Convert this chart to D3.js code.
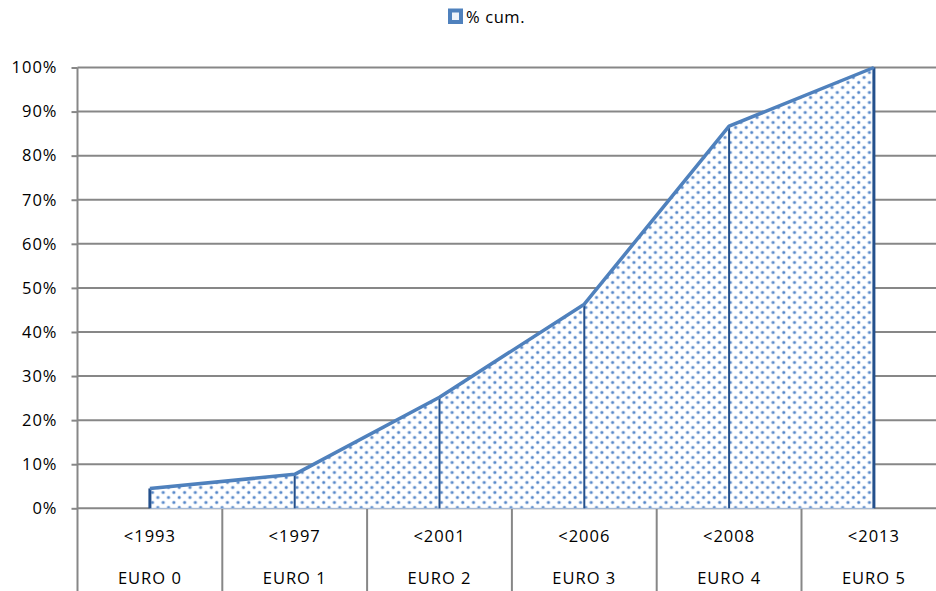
<!DOCTYPE html>
<html>
<head>
<meta charset="utf-8">
<script src="https://cdn.jsdelivr.net/npm/d3@7/dist/d3.min.js"></script>
<style>
  html, body { margin: 0; padding: 0; background: #fff; }
  svg { display: block; }
  text { font-family: "Open Sans", "Liberation Sans", sans-serif; fill: #000; }
</style>
</head>
<body>
<svg id="chart" width="936" height="591"></svg>
<script>
// Emission standard categories (two-level axis) and cumulative share
const norms  = ["EURO 0", "EURO 1", "EURO 2", "EURO 3", "EURO 4", "EURO 5"];
const years  = ["<1993", "<1997", "<2001", "<2006", "<2008", "<2013"];
const cumPct = [0.045, 0.077, 0.252, 0.463, 0.867, 1.0];
const yTicks = [0, 0.1, 0.2, 0.3, 0.4, 0.5, 0.6, 0.7, 0.8, 0.9, 1.0];
const seriesName = "% cum.";

const W = 936, H = 591;
const svg = d3.select("#chart");

const left = 77.5, step = 144.8;
const x = d3.scaleBand().domain(norms).range([left, left + step * norms.length]).padding(0);
const y = d3.scaleLinear().domain([0, 1]).range([508.3, 67.5]);
const cx = d => x(d) + x.bandwidth() / 2;

const rows = norms.map((n, i) => ({ norm: n, year: years[i], v: cumPct[i] }));

const fontSize = 16.5, spacing = "1px";

// dotted fill
const defs = svg.append("defs");
const pat = defs.append("pattern")
  .attr("id", "dots").attr("patternUnits", "userSpaceOnUse")
  .attr("width", 10.7).attr("height", 10);
pat.append("rect").attr("width", 10.7).attr("height", 10).attr("fill", "#fff");
[[2.7, 2.5], [8.05, 7.5]].forEach(([px, py]) => {
  pat.append("circle").attr("cx", px).attr("cy", py).attr("r", 2).attr("fill", "#c6d6ee");
  pat.append("circle").attr("cx", px).attr("cy", py).attr("r", 1.2).attr("fill", "#5587c8");
});

const gridColor = "#878787";

// horizontal gridlines
svg.append("g").selectAll("line").data(yTicks).join("line")
  .attr("x1", left).attr("x2", W)
  .attr("y1", d => y(d)).attr("y2", d => y(d))
  .attr("stroke", gridColor).attr("stroke-width", 2);

// y axis with tick labels
const yAxis = svg.append("g").attr("transform", `translate(${left},0)`)
  .call(d3.axisLeft(y).tickValues(yTicks).tickFormat(d3.format(".0%")).tickSize(6).tickPadding(14));
yAxis.select(".domain").remove();
yAxis.selectAll(".tick line").attr("stroke", gridColor).attr("stroke-width", 2);
yAxis.selectAll(".tick text").attr("font-size", fontSize).attr("letter-spacing", spacing)
  .attr("font-family", "'Open Sans', sans-serif").attr("fill", "#000");
svg.append("line").attr("x1", left).attr("x2", left).attr("y1", y(1)).attr("y2", H)
  .attr("stroke", gridColor).attr("stroke-width", 2);

// category separators below the plot
const bounds = norms.map(n => x(n)).concat([x(norms[norms.length - 1]) + x.bandwidth()]);
svg.append("g").selectAll("line").data(bounds.slice(1)).join("line")
  .attr("x1", d => d).attr("x2", d => d).attr("y1", y(0)).attr("y2", H)
  .attr("stroke", gridColor).attr("stroke-width", 2);

// category labels: year row and norm row
const lab = svg.append("g").attr("font-size", fontSize).attr("letter-spacing", spacing).attr("text-anchor", "middle");
lab.selectAll("text.yr").data(rows).join("text").attr("class", "yr")
  .attr("x", d => cx(d.norm)).attr("y", 541.5).text(d => d.year);
lab.selectAll("text.nm").data(rows).join("text").attr("class", "nm")
  .attr("x", d => cx(d.norm)).attr("y", 584).text(d => d.norm);

// area
const area = d3.area().x(d => cx(d.norm)).y0(y(0)).y1(d => y(d.v));
svg.append("path").datum(rows).attr("d", area).attr("fill", "url(#dots)")
  .attr("stroke", "#a9c0e0").attr("stroke-width", 1);

// drop lines
svg.append("g").selectAll("line").data(rows).join("line")
  .attr("x1", d => cx(d.norm)).attr("x2", d => cx(d.norm))
  .attr("y1", d => y(d.v)).attr("y2", y(0))
  .attr("stroke", "#24508c")
  .attr("stroke-width", (d, i) => (i === 0 || i === rows.length - 1) ? 3 : 2);

// series line
svg.append("path").datum(rows)
  .attr("d", d3.line().x(d => cx(d.norm)).y(d => y(d.v)))
  .attr("fill", "none").attr("stroke", "#4f81bd").attr("stroke-width", 3.5)
  .attr("stroke-linejoin", "round");

// legend
const lg = svg.append("g");
lg.append("rect").attr("x", 450).attr("y", 10.5).attr("width", 11).attr("height", 11.5)
  .attr("fill", "#eef3fa").attr("stroke", "#4f81bd").attr("stroke-width", 4);
lg.append("text").attr("x", 466).attr("y", 23).attr("font-size", fontSize).attr("letter-spacing", "0.6px")
  .text(seriesName);
</script>
</body>
</html>
